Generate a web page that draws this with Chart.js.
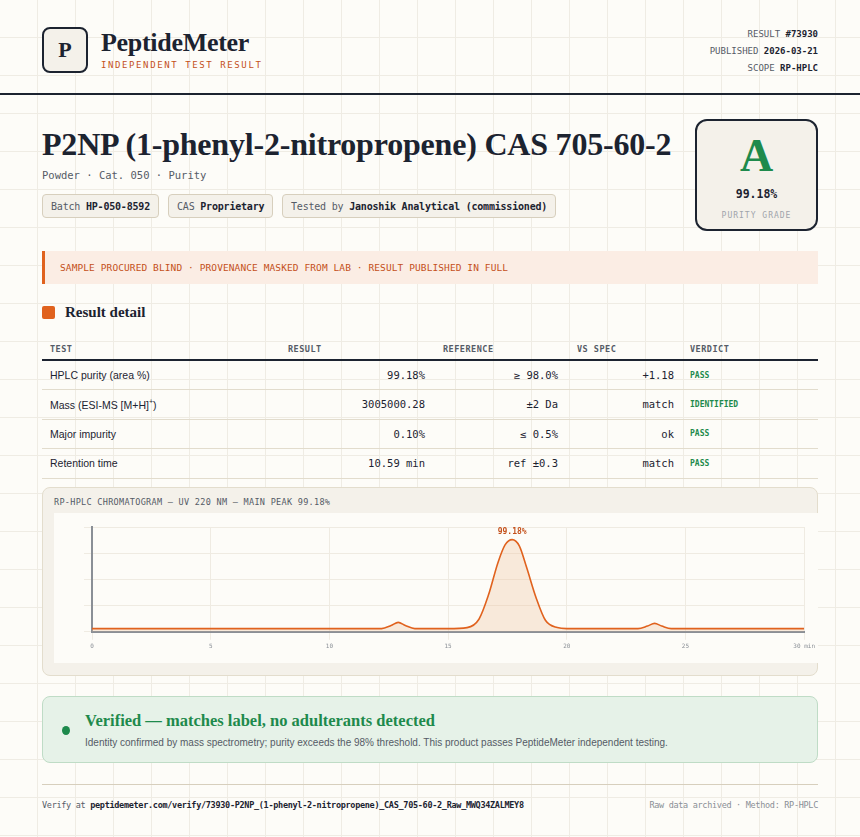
<!DOCTYPE html>
<html><head><meta charset="utf-8">
<script src="https://cdn.jsdelivr.net/npm/chart.js@4/dist/chart.umd.min.js"></script>
<style>
*{box-sizing:border-box;margin:0;padding:0}
body{width:860px;height:837px;overflow:hidden;background:#fdfcf8;
background-image:linear-gradient(#efece4 1px,transparent 1px),linear-gradient(90deg,#efece4 1px,transparent 1px);
background-size:38px 38px;background-position:-1px -1px;font-family:"DejaVu Sans Mono",monospace;color:#1c2330;position:relative}
.abs{position:absolute}
.logo{left:42px;top:27px;width:46px;height:46px;border:2px solid #1c2330;border-radius:8px;background:#f4f1ea;display:flex;align-items:center;justify-content:center;font-size:22px;font-family:"Liberation Serif",serif;font-weight:bold}
.brand{left:101px;top:28px;font-size:26px;font-family:"Liberation Serif",serif;font-weight:bold;letter-spacing:-0.3px}
.sub{left:101px;top:60px;font-size:9px;letter-spacing:1.6px;color:#c4501a}
.meta{right:42px;text-align:right;font-size:9px;color:#555b66}
.meta b{color:#1c2330}
.rule{left:0;width:860px;top:93px;height:2px;background:#1c2330}
h1{position:absolute;left:42px;top:126px;font-size:32px;font-family:"Liberation Serif",serif;font-weight:bold;letter-spacing:-0.2px}
.tag{position:absolute;top:194px;height:24px;border:1px solid #d7cfbd;border-radius:4px;background:#f4f1ea;font-size:10px;padding:6px 8px;color:#555b66;letter-spacing:-0.2px}
.tag b{color:#1c2330;font-weight:bold}
.grade{left:695px;top:119px;width:123px;height:112px;border:2px solid #1c2330;border-radius:12px;background:#f4f1ea;text-align:center}
.banner{left:42px;top:251px;width:776px;height:33px;background:#fbede4;border-left:3px solid #e0621e;font-size:9.5px;color:#c4501a;padding:11px 15px;letter-spacing:0.1px}
table{position:absolute;left:42px;top:338px;width:776px;border-collapse:collapse;table-layout:fixed}
th{font-size:8.5px;color:#555b66;text-align:left;font-weight:bold;height:22px;border-bottom:2px solid #1c2330;letter-spacing:0.5px}
td{height:29.5px;border-bottom:1px solid #e2dccd;font-size:10.5px}
td.l{font-family:"Liberation Sans",Arial,sans-serif;font-size:10.5px;padding-left:8px}
td.r{text-align:right}
td.v{font-size:8px;font-weight:bold;color:#1e8a4c;padding-left:16px}
.card{left:42px;top:487px;width:776px;height:189px;background:#f4f1ea;border:1px solid #e3ddcd;border-radius:8px}
.ver{left:42px;top:696px;width:776px;height:67px;background:#e6f2e8;border:1px solid #bfdcc6;border-radius:8px}
</style></head><body>
<div class="abs logo">P</div>
<div class="abs brand">PeptideMeter</div>
<div class="abs sub">INDEPENDENT TEST RESULT</div>
<div class="abs meta" style="top:29px">RESULT <b>#73930</b></div>
<div class="abs meta" style="top:46px">PUBLISHED <b>2026-03-21</b></div>
<div class="abs meta" style="top:63px">SCOPE <b>RP-HPLC</b></div>
<div class="abs rule"></div>
<h1>P2NP (1-phenyl-2-nitropropene) CAS 705-60-2</h1>
<div class="abs" style="left:42px;top:169px;font-size:10.5px;color:#555b66">Powder · Cat. 050 · Purity</div>
<div class="tag" style="left:42px">Batch <b>HP-050-8592</b></div>
<div class="tag" style="left:168px">CAS <b>Proprietary</b></div>
<div class="tag" style="left:282px">Tested by <b>Janoshik Analytical (commissioned)</b></div>
<div class="abs grade">
 <div style="font-family:'Liberation Serif',serif;font-weight:bold;font-size:46px;color:#1e8a4c;margin-top:10px;line-height:50px">A</div>
 <div style="font-size:11.5px;font-weight:bold;margin-top:6px">99.18%</div>
 <div style="font-size:8px;color:#a0a4aa;letter-spacing:1px;margin-top:10px">PURITY GRADE</div>
</div>
<div class="abs banner">SAMPLE PROCURED BLIND · PROVENANCE MASKED FROM LAB · RESULT PUBLISHED IN FULL</div>
<div class="abs" style="left:42px;top:306px;width:13px;height:13px;background:#e0621e;border-radius:2px"></div>
<div class="abs" style="left:65px;top:304px;font-size:15px;font-family:'Liberation Serif',serif;font-weight:bold">Result detail</div>
<table>
<colgroup><col style="width:240px"><col style="width:143px"><col style="width:133px"><col style="width:116px"><col></colgroup>
<tr><th style="padding-left:8px">TEST</th><th style="padding-left:6px">RESULT</th><th style="padding-left:18px">REFERENCE</th><th style="padding-left:19px">VS SPEC</th><th style="padding-left:16px">VERDICT</th></tr>
<tr><td class="l">HPLC purity (area %)</td><td class="r">99.18%</td><td class="r">≥ 98.0%</td><td class="r">+1.18</td><td class="v">PASS</td></tr>
<tr><td class="l">Mass (ESI-MS [M+H]<sup style="font-size:7px">+</sup>)</td><td class="r">3005000.28</td><td class="r">±2 Da</td><td class="r">match</td><td class="v">IDENTIFIED</td></tr>
<tr><td class="l">Major impurity</td><td class="r">0.10%</td><td class="r">≤ 0.5%</td><td class="r">ok</td><td class="v">PASS</td></tr>
<tr><td class="l">Retention time</td><td class="r">10.59 min</td><td class="r">ref ±0.3</td><td class="r">match</td><td class="v">PASS</td></tr>
</table>
<div class="abs card">
 <div style="position:absolute;left:11px;top:9px;font-size:8.5px;color:#555b66;letter-spacing:0.3px">RP-HPLC CHROMATOGRAM — UV 220 NM — MAIN PEAK 99.18%</div>
 <div style="position:absolute;left:11px;top:25px;width:764px;height:150px;background:#fdfcf8"><canvas id="c"></canvas></div>
</div>
<div class="abs ver">
 <div style="position:absolute;left:19px;top:29px;width:8px;height:9px;border-radius:50%;background:#1e8a4c"></div>
 <div style="position:absolute;left:42px;top:14px;font-size:16.5px;font-family:'Liberation Serif',serif;font-weight:bold;color:#1e8a4c">Verified — matches label, no adulterants detected</div>
 <div style="position:absolute;left:42px;top:40px;font-size:10px;font-family:'Liberation Sans',sans-serif;color:#555b66">Identity confirmed by mass spectrometry; purity exceeds the 98% threshold. This product passes PeptideMeter independent testing.</div>
</div>
<div class="abs" style="left:42px;top:784px;width:776px;height:1px;background:#d7cfbd"></div>
<div class="abs" style="left:42px;top:800px;font-size:8.5px;color:#555b66;letter-spacing:-0.3px">Verify at <b style="color:#1c2330">peptidemeter.com/verify/73930-P2NP_(1-phenyl-2-nitropropene)_CAS_705-60-2_Raw_MWQ34ZALMEY8</b></div>
<div class="abs" style="right:42px;top:800px;font-size:8.5px;color:#8a8f96;letter-spacing:-0.3px">Raw data archived · Method: RP-HPLC</div>
<script>
const timeMin=[0,5,10,12.2,12.6,12.9,13.2,13.6,15,15.8,16.3,16.7,17.1,17.4,17.7,18.0,18.3,18.7,19.1,19.6,20,23.0,23.4,23.7,24.0,24.4,25,30];
const signal=[0.03,0.03,0.03,0.03,0.06,0.09,0.06,0.03,0.03,0.04,0.12,0.35,0.66,0.83,0.88,0.82,0.62,0.33,0.11,0.04,0.03,0.03,0.055,0.08,0.055,0.03,0.03,0.03];
const xTicks=[0,5,10,15,20,25,30];
const peakLabel='99.18%';
const pts=timeMin.map((t,i)=>({x:t,y:signal[i]}));
const labelPlugin={id:'pk',afterDatasetsDraw(ch){const m=ch.getDatasetMeta(0);let bi=0;signal.forEach((v,i)=>{if(v>signal[bi])bi=i});const p=m.data[bi];const c=ch.ctx;c.save();c.font='bold 8px "DejaVu Sans Mono"';c.fillStyle='#c4501a';c.textAlign='center';c.fillText(peakLabel,p.x,p.y-6);c.restore();}};
new Chart(document.getElementById('c'),{type:'line',data:{datasets:[{data:pts,borderColor:'#e0621e',borderWidth:1.6,backgroundColor:'rgba(240,190,150,0.3)',fill:'origin',pointRadius:0,tension:0.4,cubicInterpolationMode:'monotone'}]},
options:{responsive:true,maintainAspectRatio:false,animation:false,layout:{padding:{left:30,right:0,top:14,bottom:10}},
plugins:{legend:{display:false},tooltip:{enabled:false}},
scales:{x:{type:'linear',min:0,max:30,afterBuildTicks:a=>{a.ticks=xTicks.map(v=>({value:v}))},ticks:{font:{size:6,family:'DejaVu Sans Mono'},color:'#8a8f96',callback:v=>v===30?'30 min':v,maxRotation:0},grid:{color:'#efebe2'},border:{color:'#8a8f96',width:2}},
y:{min:0,max:1,ticks:{display:false,stepSize:0.25},grid:{color:'#efebe2'},border:{color:'#8a8f96',width:2}}}},plugins:[labelPlugin]});
</script>
</body></html>
